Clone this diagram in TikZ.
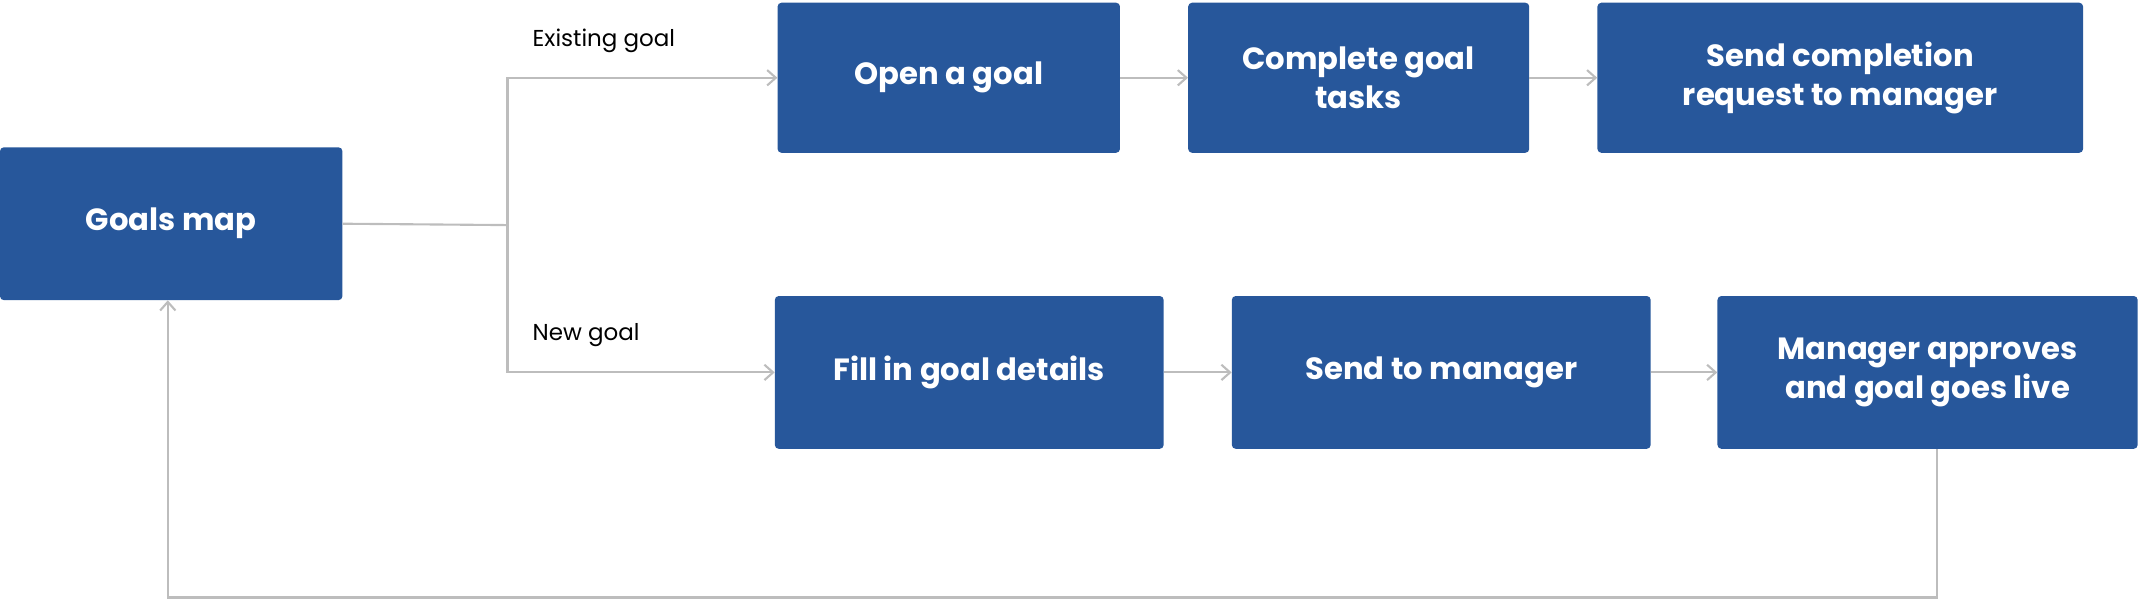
\documentclass[tikz,border=0pt]{standalone}
\usepackage{fontspec}
\setmainfont{Poppins}
\usetikzlibrary{arrows.meta}
\definecolor{bx}{HTML}{27579B}
\definecolor{ln}{HTML}{BDBDBD}
\begin{document}
\begin{tikzpicture}[x=0.05cm,y=-0.05cm,
 box/.style={fill=bx,rounded corners=4pt,text=white,font=\fontsize{32}{40}\selectfont\bfseries,align=center,inner sep=0pt},
 con/.style={draw=ln,line width=2.2pt,-{Straight Barb[length=9pt,width=16pt]}},
 lab/.style={font=\fontsize{24}{28}\selectfont,anchor=west}]
\useasboundingbox (0,0) rectangle (1568,441);
\node[box,minimum width=251*0.05cm,minimum height=112*0.05cm] (g) at (125.5,164) {Goals map};
\node[box,minimum width=251*0.05cm,minimum height=110*0.05cm] (o) at (695.5,57) {Open a goal};
\node[box,minimum width=250*0.05cm,minimum height=110*0.05cm] (c) at (996,57) {Complete goal\\tasks};
\node[box,minimum width=356*0.05cm,minimum height=110*0.05cm] (s) at (1349,57) {Send completion\\request to manager};
\node[box,minimum width=285*0.05cm,minimum height=112*0.05cm] (f) at (710.5,273) {Fill in goal details};
\node[box,minimum width=307*0.05cm,minimum height=112*0.05cm] (m) at (1056.5,273) {Send to manager};
\node[box,minimum width=308*0.05cm,minimum height=112*0.05cm] (a) at (1413,273) {Manager approves\\and goal goes live};
\coordinate (br) at (372,165);
\draw[draw=ln,line width=2.2pt] (g.east) -- (br);
\draw[con] (br) |- (o.west);
\draw[con] (br) |- (f.west);
\draw[con] (o) -- (c);
\draw[con] (c) -- (s);
\draw[con] (f) -- (m);
\draw[con] (m) -- (a);
\coordinate (l1) at (1420,438);
\coordinate (l2) at (123,438);
\draw[con] (a.south -| l1) -- (l1) -- (l2) -- (g.south -| l2);
\node[lab] (t1) at (388,30) {Existing goal};
\node[lab] (t2) at (388,246) {New goal};
\end{tikzpicture}
\end{document}
